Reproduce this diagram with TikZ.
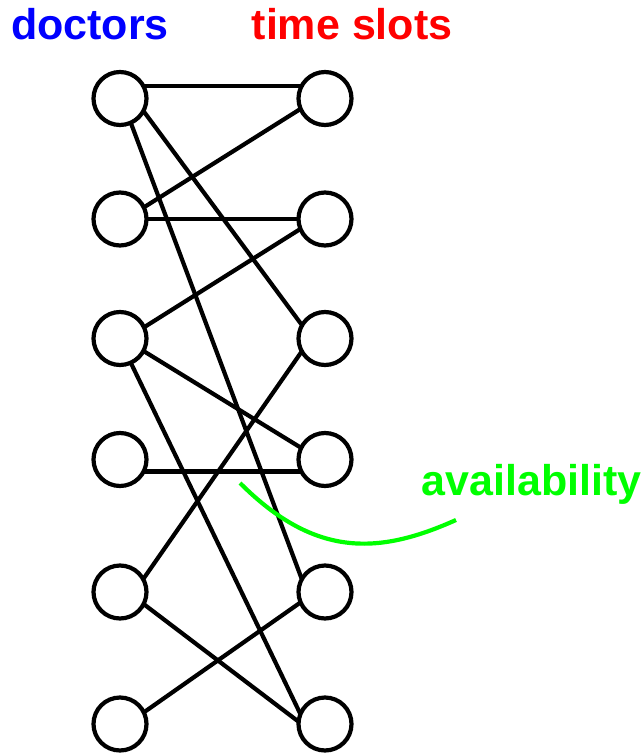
\documentclass[tikz,border=0pt]{standalone}
\usepackage{fontspec}
\setmainfont{Liberation Sans}
\begin{document}
\begin{tikzpicture}[x=1pt,y=-1pt,
  vertex/.style={circle,draw=black,line width=4.2pt,minimum size=53pt,inner sep=0pt,outer sep=0pt},
  edge/.style={draw=black,line width=4.2pt},
  heading/.style={anchor=base west,inner sep=0pt,font=\bfseries\fontsize{43}{43}\selectfont}]
\useasboundingbox (0,0) rectangle (643,753);
\definecolor{avail}{RGB}{0,255,0}
\definecolor{docblue}{RGB}{0,0,255}
\definecolor{slotred}{RGB}{255,0,0}

% column headings
\node[heading,text=docblue] (hd) at (11,39.3) {doctors};
\node[heading,text=slotred] (hs) at (251.5,39.3) {time slots};

% doctors (left) and time slots (right)
\foreach \i/\y in {1/98.5,2/219,3/338.5,4/459.5,5/592,6/724}{
  \node[vertex] (L\i) at (120,\y) {};
  \node[vertex] (R\i) at (325,\y) {};
}

% availability edges
\draw[edge] (L1.28)  -- (R1.152);
\draw[edge] (L1.-28) -- (R3.150);
\draw[edge] (L1.-66) -- (R5.151);
\draw[edge] (L2.26)  -- (R1.203);
\draw[edge] (L2.east) -- (R2.west);
\draw[edge] (L3.25)  -- (R2.202);
\draw[edge] (L3.-28) -- (R4.154);
\draw[edge] (L3.-66) -- (R6.158);
\draw[edge] (L4.-27) -- (R4.207);
\draw[edge] (L5.29)  -- (R3.209);
\draw[edge] (L5.-27) -- (R6.175);
\draw[edge] (L6.26)  -- (R5.203);

% label with its pointer curve
\node[heading,text=avail] (av) at (421.5,495) {availability};
\coordinate (c0) at (240,483);
\coordinate (c1) at (456,520);
\draw[line width=4.2pt,avail] (c0) .. controls (316,559) and (380,554) .. (c1);
\end{tikzpicture}
\end{document}
